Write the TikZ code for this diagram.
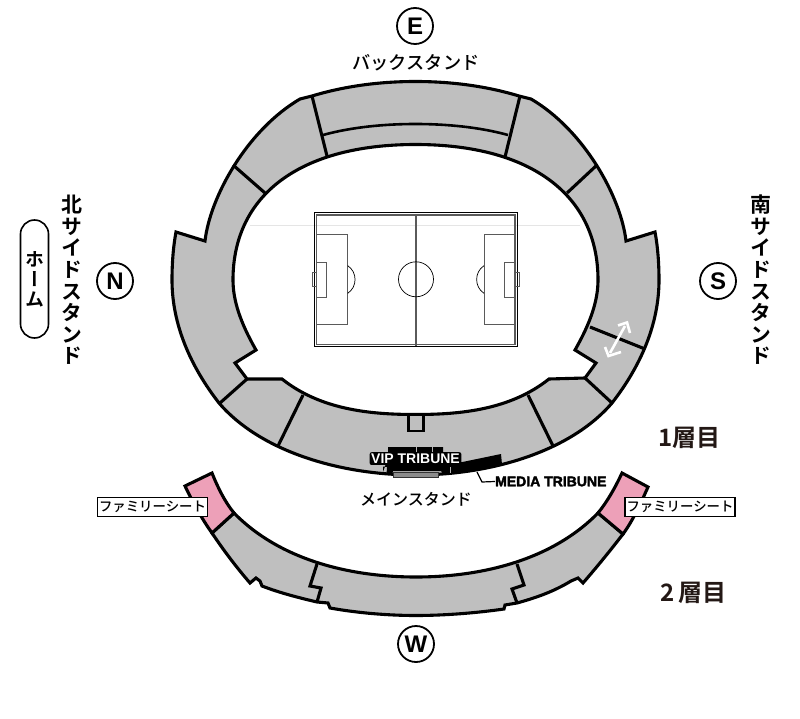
\documentclass[tikz,border=0pt]{standalone}
\usepackage{fontspec}
\setmainfont{Liberation Sans}
\newfontfamily\cjk{Noto Sans CJK JP Medium}[BoldFont={Noto Sans CJK JP Bold}]
\newfontfamily\cjkv{Noto Sans CJK JP}[BoldFont={Noto Sans CJK JP Bold},RawFeature={+vert}]
\definecolor{seatgray}{HTML}{BFBFBF}
\definecolor{seatpink}{HTML}{EDA0B8}
\definecolor{inkdark}{HTML}{231815}
\definecolor{pitchgray}{HTML}{5A5A5A}
\tikzset{
  stand/.style={draw=black,line width=3.1pt,fill=seatgray,line join=miter,miter limit=6},
  divider/.style={draw=black,line width=3.1pt},
  pinkstand/.style={draw=black,line width=3.1pt,fill=seatpink,line join=miter},
  pitchline/.style={draw=pitchgray,line width=.9pt},
  dirmark/.style={circle,draw=black,line width=1.8pt,fill=white,minimum size=36pt,inner sep=0pt,font=\bfseries\fontsize{24}{24}\selectfont},
  tiername/.style={inner sep=0pt,text=inkdark,font=\cjk\bfseries\fontsize{24}{24}\selectfont},
  standname/.style={inner sep=0pt,font=\cjk\fontsize{16}{16}\selectfont},
  sidename/.style={inner sep=0pt,align=center,font=\cjkv\bfseries\fontsize{21}{21.6}\selectfont},
  famlabel/.style={draw=black,line width=1.2pt,fill=white,inner sep=0pt,minimum width=110pt,minimum height=19.5pt,font=\cjk\fontsize{13.4}{13.4}\selectfont},
  tribune/.style={inner sep=0pt,font=\bfseries\fontsize{14}{14}\selectfont}
}
\newcommand{\heavytext}[1]{\special{pdf:code 2 Tr 0.35 w 0 0 0 RG}#1\special{pdf:code 0 Tr}}
\begin{document}
\begin{tikzpicture}[x=1pt,y=-1pt]
\useasboundingbox (0,0) rectangle (800,719);
\fill[white] (0,0) rectangle (800,719);
% first tier
\draw[stand]
  (176,232) -- (205,241)
  .. controls (210,197) and (247,130) .. (300,99) -- (312,96)
  .. controls (345,86) and (380,81.5) .. (415.5,81.5)
  .. controls (451,81.5) and (486,86) .. (519,96) -- (531,99)
  .. controls (584,130) and (621,197) .. (626,241)
  -- (655,232)
  .. controls (658,248) and (659,265) .. (659,280)
  .. controls (659,325) and (640,367) .. (612,403)
  .. controls (570,452) and (490,475) .. (415.5,475)
  .. controls (341,475) and (261,452) .. (219,403)
  .. controls (191,367) and (172,325) .. (172,280)
  .. controls (172,265) and (173,248) .. (176,232)
  -- cycle;
% field opening
\draw[draw=black,line width=3.1pt,fill=white,miter limit=6]
  (256,350) .. controls (240,322) and (233,300) .. (233,280)
  .. controls (233,195) and (300,144.5) .. (415.5,144.5)
  .. controls (531,144.5) and (598,195) .. (598,280)
  .. controls (598,300) and (591,322) .. (575,350)
  -- (596,363) -- (585,378) -- (549,379)
  .. controls (510,410) and (460,414.5) .. (415.5,414.5)
  .. controls (371,414.5) and (321,410) .. (282,379)
  -- (247,379) -- (235,363) -- cycle;
% notch under the field
\draw[draw=black,line width=2.4pt,fill=seatgray] (408.5,415) rectangle (423.5,431);
% dividers
\draw[divider] (312,96) -- (327,156);
\draw[divider] (520,96) -- (505,157);
\draw[divider,line width=2.6pt] (323,135) .. controls (352,127) and (385,124) .. (415.5,124) .. controls (446,124) and (479,127) .. (508,135);
\draw[divider] (233,165) -- (265,193);
\draw[divider] (597,165) -- (567,193);
\draw[divider] (247,379) -- (220,403);
\draw[divider] (303,395) -- (278,446);
\draw[divider] (528,395) -- (553,446);
\draw[divider] (585,378) -- (612,403);
\draw[divider] (590,327) -- (645,349);
% white double arrow
\draw[white,line width=2.6pt] (625,326) -- (610,353);
\draw[white,line width=2.6pt,line join=miter] (618,325.5) -- (627,322.5) -- (630,333);
\draw[white,line width=2.6pt,line join=miter] (605,347) -- (608.5,356) -- (621,352);
% pitch
\draw[draw=black!25,line width=.4pt,opacity=.4] (250,225) -- (580,225);
\draw[black,line width=1pt] (314.7,212.7) rectangle (517.3,346.7);
\draw[pitchline,line width=1.3pt] (316.7,215) rectangle (515,344.3);
\draw[pitchgray,line width=1.6pt] (416,215) -- (416,346);
\draw[pitchline] (316.7,234.3) rectangle (347.7,324.3);
\draw[pitchline] (515,234.3) rectangle (484,324.3);
\draw[pitchline] (316.7,262) rectangle (326.7,297);
\draw[pitchline] (515,262) rectangle (504.7,297);
\draw[pitchgray,line width=.6pt] (312.3,272) rectangle (316.7,286.7);
\draw[pitchgray,line width=.6pt] (515.5,272) rectangle (519.7,286.7);
\draw[black,line width=.7pt] (416,279.3) circle[radius=17.5pt];
\draw[black,line width=.7pt] (347.7,265.7) .. controls (357.5,272) and (357.5,287) .. (347.7,293.3);
\draw[black,line width=.7pt] (484,265.7) .. controls (474.2,272) and (474.2,287) .. (484,293.3);
% tribunes
\fill[black] (388,447) -- (443,447) -- (443,460) -- (460,462.5) -- (501,454) -- (502,464.5) -- (470,470.5) -- (443,474) -- (441,471) -- (393,471) -- (392,475) -- (386.5,474.5) -- (387,467) -- (383,466.5) -- (383,472) -- (388,458) -- cycle;
\draw[white,line width=.4pt,opacity=.7] (416,447) -- (416,452) (432,447) -- (432,452) (450,467) -- (450,473);
\draw[draw=black!80,line width=.7pt,fill=black!45] (393.5,472.5) rectangle (438,477);
\node[tribune,text=white,fill=black,rounded corners=2pt,inner xsep=1.5pt,inner ysep=1.5pt] (vip) at (415.5,458.6) {VIP TRIBUNE};
\node[tribune,anchor=west] (media) at (495,481.5) {\heavytext{MEDIA TRIBUNE}};
\coordinate (mediatip) at (477,472);
\draw[black,line width=1.2pt] (mediatip) -- (482,482) -- (media.west);
% second tier
\draw[stand]
  (234,513) .. controls (280,560) and (350,577) .. (416,577)
  .. controls (482,577) and (552,560) .. (598,513)
  -- (623,534)
  .. controls (610,551) and (596,568) .. (583,583) -- (578,578) -- (571,581)
  .. controls (553,592) and (535,598) .. (517,603)
  -- (505,605) -- (504,609)
  .. controls (476,613) and (444,615.5) .. (416,615.5)
  .. controls (388,615.5) and (358,613) .. (330,608)
  -- (328,603) -- (317,602)
  .. controls (300,598) and (280,593) .. (262,586)
  -- (260,581) -- (256,578) -- (250,583)
  .. controls (237,568) and (224,551) .. (212,533) -- cycle;
\draw[divider,miter limit=6] (317,564) -- (310,586) -- (321,588) -- (317,602);
\draw[divider,miter limit=6] (517,564) -- (524,585) -- (512,589) -- (517,603);
\draw[pinkstand] (185,486) -- (212,473) .. controls (218,488) and (225,502) .. (234,513) -- (212,533) .. controls (204,522) and (194,505) .. (185,486) -- cycle;
\draw[pinkstand] (622,473) -- (648,487) .. controls (640,505) and (632,522) .. (623,534) -- (598,513) .. controls (607,502) and (615,488) .. (622,473) -- cycle;
\node[famlabel] (famL) at (152.5,507) {ファミリーシート};
\node[famlabel] (famR) at (680,507) {ファミリーシート};
% text
\node[dirmark] (E) at (415,26) {E};
\node[dirmark] (N) at (115,281) {N};
\node[dirmark] (S) at (718,281) {S};
\node[dirmark] (W) at (416,644) {W};
\node[standname,font=\cjk\fontsize{18.2}{18.2}\selectfont] (back) at (416,63) {バックスタンド};
\node[standname] (main) at (416,499) {メインスタンド};
\node[tiername,anchor=west] (t1) at (658,438) {1層目};
\node[tiername,anchor=west] (t2) at (660,593) {2\,層目};
\node[sidename] (north) at (72,280) {北\\サ\\イ\\ド\\ス\\タ\\ン\\ド};
\node[sidename] (south) at (761,280) {南\\サ\\イ\\ド\\ス\\タ\\ン\\ド};
\node[draw=black,line width=1.6pt,fill=white,rounded corners=14pt,minimum width=28pt,minimum height=118pt,inner sep=0pt,align=center,font=\cjkv\bfseries\fontsize{19}{20}\selectfont] (home) at (34.5,279) {ホ\\ー\\ム};
\end{tikzpicture}
\end{document}
